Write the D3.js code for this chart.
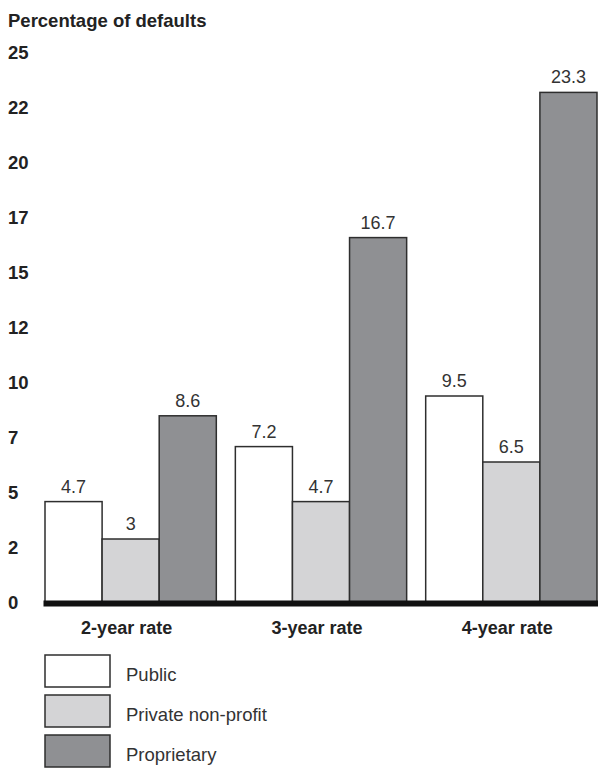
<!DOCTYPE html>
<html>
<head>
<meta charset="utf-8">
<script src="https://cdn.jsdelivr.net/npm/d3@7"></script>
<style>
  html, body { margin: 0; padding: 0; background: #fff; }
  svg { display: block; }
</style>
</head>
<body>
<svg id="chart" width="600" height="771"></svg>
<script>
// Default rates by institution type
const categories = ["2-year rate", "3-year rate", "4-year rate"];
const seriesNames = ["Public", "Private non-profit", "Proprietary"];
const publicValues = [4.7, 7.2, 9.5];
const privateValues = [3, 4.7, 6.5];
const proprietaryValues = [8.6, 16.7, 23.3];
const tickValues = [0, 2.5, 5, 7.5, 10, 12.5, 15, 17.5, 20, 22.5, 25];
const tickLabels = ["0", "2", "5", "7", "10", "12", "15", "17", "20", "22", "25"];

const seriesValues = [publicValues, privateValues, proprietaryValues];
const fills = ["#ffffff", "#d4d4d6", "#8f9093"];
const strokeCol = "#2e2e2e";
const font = "'Liberation Sans', Arial, sans-serif";

const svg = d3.select("#chart");

const y = d3.scaleLinear().domain([0, 25]).range([605, 55]);
const x0 = d3.scaleBand().domain(categories).range([45, 597]).paddingInner(0.1).paddingOuter(0);
const x1 = d3.scaleBand().domain(seriesNames).range([0, x0.bandwidth()]).padding(0);

// Axis title
svg.append("text")
  .attr("x", 8).attr("y", 27)
  .attr("font-family", font).attr("font-size", 18.5).attr("font-weight", "bold")
  .attr("fill", "#222")
  .text("Percentage of defaults");

// Y axis: labels only
const yAxis = d3.axisLeft(y)
  .tickValues(tickValues)
  .tickFormat((d, i) => tickLabels[i])
  .tickSize(0);
const yg = svg.append("g").call(yAxis);
yg.select(".domain").remove();
yg.selectAll("text")
  .attr("x", 8).attr("dy", "0.3em")
  .attr("transform", "translate(0,-2)")
  .attr("text-anchor", "start")
  .attr("font-family", font).attr("font-size", 18.5).attr("font-weight", "bold")
  .attr("fill", "#222");

// Bars
const rows = [];
categories.forEach((c, ci) => {
  seriesNames.forEach((s, si) => {
    rows.push({ cat: c, series: s, si: si, value: seriesValues[si][ci] });
  });
});

const groups = svg.append("g");
groups.selectAll("rect.bar")
  .data(rows)
  .join("rect")
  .attr("class", "bar")
  .attr("x", d => x0(d.cat) + x1(d.series))
  .attr("y", d => y(d.value))
  .attr("width", x1.bandwidth())
  .attr("height", d => y(0) - y(d.value))
  .attr("fill", d => fills[d.si])
  .attr("stroke", strokeCol)
  .attr("stroke-width", 1.5);

// Value labels
groups.selectAll("text.val")
  .data(rows)
  .join("text")
  .attr("class", "val")
  .attr("x", d => x0(d.cat) + x1(d.series) + x1.bandwidth() / 2)
  .attr("y", d => y(d.value) - 9)
  .attr("text-anchor", "middle")
  .attr("font-family", font).attr("font-size", 18)
  .attr("fill", "#333")
  .text(d => String(d.value));

// Thick baseline
svg.append("rect")
  .attr("x", 43.5).attr("y", 600.5)
  .attr("width", 598 - 43.5).attr("height", 6)
  .attr("fill", "#111");

// Category labels
svg.selectAll("text.cat")
  .data(categories)
  .join("text")
  .attr("class", "cat")
  .attr("x", d => x0(d) + x0.bandwidth() / 2 - 4)
  .attr("y", 634)
  .attr("text-anchor", "middle")
  .attr("font-family", font).attr("font-size", 18).attr("font-weight", "bold")
  .attr("fill", "#222")
  .text(d => d);

// Legend
const legend = svg.append("g");
const lg = legend.selectAll("g")
  .data(seriesNames)
  .join("g")
  .attr("transform", (d, i) => `translate(45, ${655 + i * 40})`);
lg.append("rect")
  .attr("width", 65).attr("height", 32)
  .attr("fill", (d, i) => fills[i])
  .attr("stroke", strokeCol).attr("stroke-width", 1.5);
lg.append("text")
  .attr("x", 81).attr("y", 26)
  .attr("font-family", font).attr("font-size", 18.5)
  .attr("fill", "#333")
  .text(d => d);
</script>
</body>
</html>
